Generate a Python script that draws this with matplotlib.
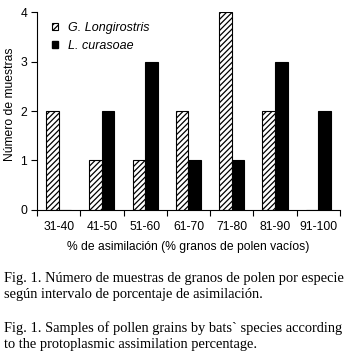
import matplotlib
matplotlib.use("Agg")
import matplotlib.pyplot as plt
import numpy as np
from matplotlib.patches import Patch

categories = ["31-40", "41-50", "51-60", "61-70", "71-80", "81-90", "91-100"]
g_longirostris = [2, 1, 1, 2, 4, 2, 0]
l_curasoae = [0, 2, 3, 1, 1, 3, 2]

plt.rcParams['font.family'] = ['Liberation Sans', 'DejaVu Sans']
plt.rcParams['hatch.linewidth'] = 0.9

fig = plt.figure(figsize=(3.47, 3.57), dpi=100)
ax = fig.add_axes([0.1066, 0.412, 0.873, 0.554])

x = np.arange(len(categories))
w = 0.29
ax.bar(x - w/2, g_longirostris, w, facecolor='white', edgecolor='black', hatch='//////', linewidth=0.8)
ax.bar(x + w/2, l_curasoae, w, facecolor='black', edgecolor='black', linewidth=0.8)

ax.set_xlim(-0.5, len(categories) - 0.5)
ax.set_ylim(0, 4)
ax.set_yticks([0, 1, 2, 3, 4])
ax.set_xticks(x)
ax.set_xticklabels(categories, fontsize=8.7)
ax.set_xticks(np.arange(-0.5, len(categories)), minor=True)
ax.tick_params(axis='x', which='major', length=0, pad=8)
ax.tick_params(axis='x', which='minor', length=4, direction='out', width=0.8)
ax.tick_params(axis='y', length=4, direction='out', width=0.8, labelsize=8.7, pad=3)
for s in ['top', 'right']:
    ax.spines[s].set_visible(False)
for s in ['left', 'bottom']:
    ax.spines[s].set_linewidth(0.8)

ax.set_ylabel("Número de muestras", fontsize=8.7, va='center')
ax.yaxis.set_label_coords(-0.088, 0.535)
ax.set_xlabel("% de asimilación (% granos de polen vacíos)", fontsize=8.7, labelpad=6)

handles = [Patch(facecolor='white', edgecolor='black', hatch='//////', linewidth=0.8),
           Patch(facecolor='black', edgecolor='black')]
leg = ax.legend(handles, ["G. Longirostris", "L. curasoae"], loc='upper left',
                bbox_to_anchor=(0.05, 0.95), frameon=False,
                borderaxespad=0, borderpad=0,
                handlelength=0.5, handleheight=0.5, handletextpad=0.8, labelspacing=0.45,
                prop={'style': 'italic', 'size': 9})

serif = ['Liberation Serif', 'DejaVu Serif']
cap = dict(fontsize=10.35, family=serif, ha='left', va='baseline')
fig.text(0.012, 1 - 282/357, "Fig. 1. Número de muestras de granos de polen por especie", **cap)
fig.text(0.012, 1 - 298/357, "según intervalo de porcentaje de asimilación.", **cap)
fig.text(0.012, 1 - 332/357, "Fig. 1. Samples of pollen grains by bats` species according", **cap)
fig.text(0.012, 1 - 348/357, "to the protoplasmic assimilation percentage.", **cap)

fig.savefig("out.png", dpi=100)
